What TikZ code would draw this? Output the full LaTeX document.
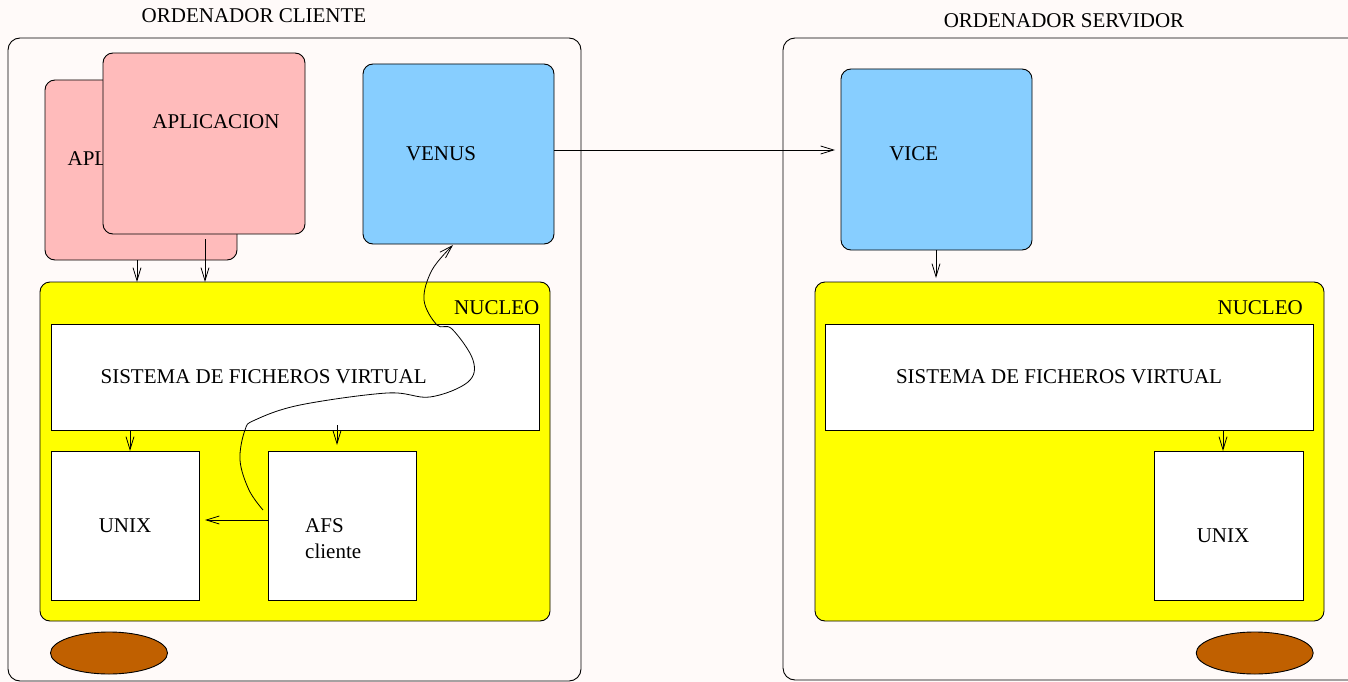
\documentclass[tikz,border=0pt]{standalone}
\usepackage{fontspec}
\setmainfont{Liberation Serif}
\usetikzlibrary{arrows.meta,shapes.geometric}
\definecolor{bgc}{RGB}{255,250,249}
\definecolor{appc}{RGB}{255,187,187}
\definecolor{procc}{RGB}{135,206,255}
\definecolor{kerc}{RGB}{255,255,0}
\definecolor{diskc}{RGB}{192,96,0}
\tikzset{
  box/.style={draw, line width=0.9pt, inner sep=0pt, outer sep=0pt},
  rbox/.style={box, rounded corners=10pt},
  obox/.style={box, rounded corners=12pt},
  arr/.style={-{Straight Barb[length=13pt,width=8pt,line width=0.8pt]}, line width=0.8pt},
  txt/.style={font=\fontsize{21}{25}\selectfont, inner sep=0pt, anchor=base},
  disk/.style={draw, line width=0.9pt, fill=diskc, ellipse, minimum width=117pt, minimum height=42pt, inner sep=0pt}
}
\begin{document}
\begin{tikzpicture}[x=1pt,y=-1pt]
\useasboundingbox (0,0) rectangle (1348,682);
\fill[bgc] (0,0) rectangle (1348,682);

% titles
\node[txt] (tcli) at (254,22.7) {ORDENADOR CLIENTE};
\node[txt] (tser) at (1064,27.7) {ORDENADOR SERVIDOR};

% outer computer boxes
\node[obox, minimum width=573pt, minimum height=643pt] (cli) at (294.5,359.5) {};
\node[obox, minimum width=580pt, minimum height=642pt] (ser) at (1073,359) {};

% applications
\node[rbox, fill=appc, minimum width=192pt, minimum height=180pt] (appb) at (141,170) {};
\node[txt, anchor=base west] (appbt) at (67.4,165.7) {APLICACION};
\node[rbox, fill=appc, minimum width=202pt, minimum height=181pt] (appf) at (204,143.5) {};
\node[txt] (appft) at (216,128.3) {APLICACION};

% VENUS / VICE
\node[rbox, fill=procc, minimum width=191pt, minimum height=180pt] (venus) at (458.5,154) {};
\node[txt] (venust) at (441,160.7) {VENUS};
\node[rbox, fill=procc, minimum width=191pt, minimum height=181pt] (vice) at (936.5,159.5) {};
\node[txt] (vicet) at (913.8,160.7) {VICE};

% client kernel
\node[rbox, fill=kerc, minimum width=510pt, minimum height=339pt] (kc) at (295,451.5) {};
\node[txt, anchor=base east] (kct) at (539.6,314) {NUCLEO};
\node[box, fill=white, minimum width=488pt, minimum height=106pt] (vfsc) at (295,377) {};
\node[txt] (vfsct) at (263.6,383) {SISTEMA DE FICHEROS VIRTUAL};
\node[box, fill=white, minimum width=148pt, minimum height=149pt] (unixc) at (125,525.5) {};
\node[txt] (unixct) at (125,532) {UNIX};
\node[box, fill=white, minimum width=148pt, minimum height=149pt] (afs) at (342,525.5) {};
\node[txt, anchor=base west] (afst) at (305,532) {AFS};
\node[txt, anchor=base west] (afst2) at (305,558) {cliente};

% server kernel
\node[rbox, fill=kerc, minimum width=509pt, minimum height=339pt] (ks) at (1069.5,451.5) {};
\node[txt, anchor=base east] (kst) at (1303,314) {NUCLEO};
\node[box, fill=white, minimum width=488pt, minimum height=106pt] (vfss) at (1069,377) {};
\node[txt] (vfsst) at (1059,383) {SISTEMA DE FICHEROS VIRTUAL};
\node[box, fill=white, minimum width=149pt, minimum height=149pt] (unixs) at (1228.5,525.5) {};
\node[txt] (unixst) at (1223,542) {UNIX};

% disks
\node[disk] (dc) at (109,653) {};
\node[disk] (ds) at (1254.7,653) {};

% connectors
\draw[arr] (137,0 |- appb.south) -- (137,0 |- kc.north);
\draw[arr, shorten <=5pt] (205,0 |- appf.south) -- (205,0 |- kc.north);
\draw[arr] (venus.east |- 0,150) -- ([xshift=-6pt]vice.west |- 0,150);
\draw[arr] (936,0 |- vice.south) -- ([yshift=4pt]936,0 |- ks.north);
\draw[arr] (130,0 |- vfsc.south) -- (130,0 |- unixc.north);
\draw[arr, shorten <=-5pt, shorten >=6pt] (337,0 |- vfsc.south) -- (337,0 |- afs.north);
\draw[arr, shorten >=6pt] (afs.west |- 0,520) -- (unixc.east |- 0,520);
\draw[arr] (1223,0 |- vfss.south) -- (1223,0 |- unixs.north);

\coordinate (cs) at (263,510);
\coordinate (ce) at (453,245);
\draw[arr] plot[smooth, tension=0.6] coordinates {(cs) (249,490) (240,460) (245,430) (255,420) (300,405) (387,393) (430,397) (468,382) (473,360) (452,329) (437,325) (424,300) (432,270) (ce)};
\end{tikzpicture}
\end{document}
